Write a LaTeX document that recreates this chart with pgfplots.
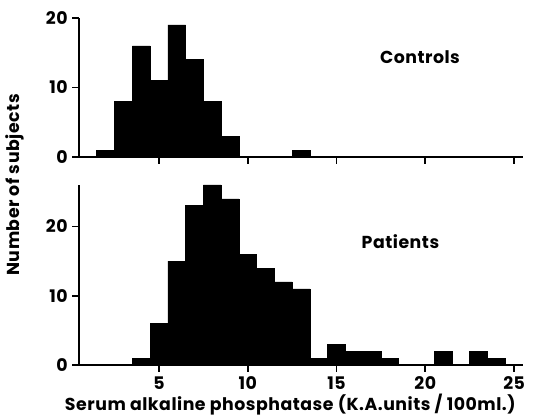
\documentclass[border=0pt]{standalone}
\usepackage{pgfplots}
\pgfplotsset{compat=1.18}
\usepackage{fontspec}
\setmainfont{Poppins}[LetterSpace=3]

% 1 px of the reference = 0.75pt
\newcommand{\lblfont}{\fontsize{13}{15}\selectfont\bfseries}
\pgfplotsset{
  histo/.style={
    scale only axis,
    width=333pt,
    xmin=0.5, xmax=25.5,
    ymin=0,
    axis x line=bottom, axis y line=left,
    axis line style={-, line width=1.3pt},
    tick style={line width=1.3pt, black},
    major tick length=5pt,
    tick align=outside,
    xtick={5,10,15,20,25},
    ytick={0,10,20},
    ticklabel style={font=\lblfont},
    /pgf/number format/assume math mode=true,
    clip=false,
  },
  bars/.style={ybar, bar width=1, bar shift=0pt, fill=black, draw=black, line width=0.4pt},
}

\begin{document}
\begin{tikzpicture}
\path (-59.25pt,-41.25pt) rectangle (342.75pt,273.75pt);

% Patients
\begin{axis}[histo, height=135pt, ymax=26,
  xlabel={Serum alkaline phosphatase (K.A.units / 100ml.)},
  xlabel style={font=\lblfont, yshift=3pt, xshift=-8pt},
]
\addplot[bars] coordinates {
  (4,1) (5,6) (6,15) (7,23) (8,26) (9,24) (10,16) (11,14) (12,12) (13,11)
  (14,1) (15,3) (16,2) (17,2) (18,1) (21,2) (23,2) (24,1)
};
\node[font=\lblfont] at (axis cs:18.6,17.8) {Patients};
\end{axis}

% Controls
\begin{axis}[histo, at={(0pt,156pt)}, height=104.25pt, ymax=20,
  xticklabels={},
]
\addplot[bars] coordinates {
  (2,1) (3,8) (4,16) (5,11) (6,19) (7,14) (8,8) (9,3) (13,1)
};
\node[font=\lblfont] at (axis cs:19.7,14.4) {Controls};
\end{axis}

\node[rotate=90, font=\lblfont] at (-48pt,135pt) {Number of subjects};
\end{tikzpicture}
\end{document}
